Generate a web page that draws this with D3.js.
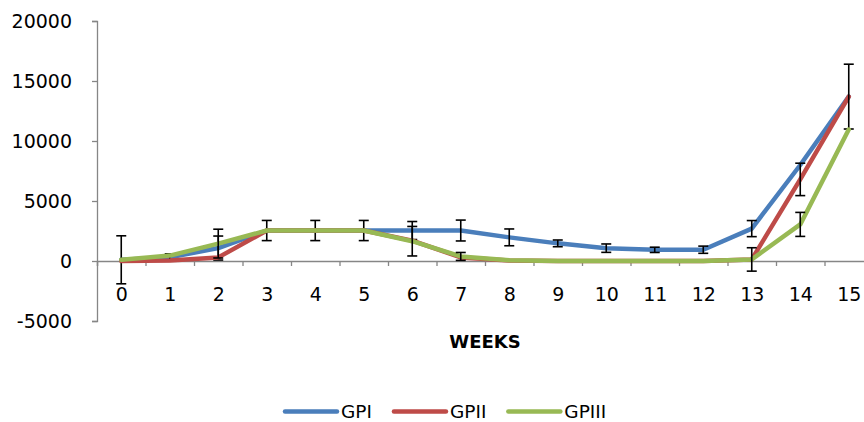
<!DOCTYPE html>
<html>
<head>
<meta charset="utf-8">
<script src="https://cdn.jsdelivr.net/npm/d3@7"></script>
<style>
  html, body { margin: 0; padding: 0; background: #fff; }
  svg { display: block; }
  text { font-family: "DejaVu Sans", "Noto Sans", sans-serif; fill: #000; }
</style>
</head>
<body>
<svg id="chart" width="864" height="422"></svg>
<script>
// ---- data ----
const weeks = [0,1,2,3,4,5,6,7,8,9,10,11,12,13,14,15];
const seriesNames = ["GPI", "GPII", "GPIII"];
const gpi   = [100, 300, 1080, 2540, 2540, 2540, 2540, 2540, 1970, 1470, 1070, 930, 940, 2700, 8000, 13700];
const gpii  = [0, 50, 300, 2540, 2540, 2540, 1700, 300, 50, 0, 0, 0, 0, 130, 6800, 13700];
const gpiii = [100, 450, 1450, 2540, 2540, 2540, 1650, 380, 60, 0, 0, 0, 0, 130, 3050, 10950];
// error bar half-lengths (0 = no bar shown)
const errGpi   = [2000, 300, 1000, 840, 840, 840, 750, 870, 700, 280, 350, 220, 300, 670, 0, 0];
const errGpii  = [0, 0, 0, 0, 0, 0, 0, 0, 0, 0, 0, 0, 0, 0, 1350, 2700];
const errGpiii = [0, 0, 1200, 0, 0, 0, 1230, 330, 0, 0, 0, 0, 0, 975, 1000, 0];
const yTicks = [-5000, 0, 5000, 10000, 15000, 20000];
const yTickLabels = ["-5000", "0", "5000", "10000", "15000", "20000"];
const xTitle = "WEEKS";
const colors = ["#4A7EBB", "#BE4B48", "#98B954"];

const seriesValues = [gpi, gpii, gpiii];
const seriesErr = [errGpi, errGpii, errGpiii];

// ---- layout ----
const svg = d3.select("#chart");
const x = d3.scaleLinear().domain([-0.5, 15.5]).range([97, 873]);
const y = d3.scaleLinear().domain([-5000, 20000]).range([321, 21]);
const axisColor = "#868686";
const fontFam = '"DejaVu Sans", "Noto Sans", sans-serif';

// Y axis
const yAxis = svg.append("g")
  .attr("transform", `translate(${x(-0.5)},0)`)
  .call(d3.axisLeft(y).tickValues(yTicks).tickSize(5).tickPadding(20)
    .tickFormat((d, i) => yTickLabels[i]));
yAxis.select(".domain").attr("stroke", axisColor).attr("stroke-width", 1.3);
yAxis.selectAll(".tick line").attr("stroke", axisColor).attr("stroke-width", 1.3);
yAxis.selectAll(".tick text").attr("font-size", 19).attr("fill", "#000")
  .style("font-family", fontFam);

// X axis (at zero) – tick marks at category boundaries
const boundaries = d3.range(-0.5, 16, 1);
const xAxis = svg.append("g")
  .attr("transform", `translate(0,${y(0)})`)
  .call(d3.axisBottom(x).tickValues(boundaries).tickSize(5).tickFormat(""));
xAxis.select(".domain").attr("stroke", axisColor).attr("stroke-width", 1.3);
xAxis.selectAll(".tick line").attr("stroke", axisColor).attr("stroke-width", 1.3);

// X labels
const xLab = svg.append("g")
  .attr("transform", `translate(0,${y(0)})`)
  .call(d3.axisBottom(x).tickValues(weeks).tickSize(0).tickPadding(27).tickFormat(d3.format("d")));
xLab.select(".domain").remove();
xLab.selectAll(".tick text").attr("font-size", 19).attr("fill", "#000")
  .style("font-family", fontFam);

// X title
svg.append("text")
  .attr("x", (x(-0.5) + x(15.5)) / 2)
  .attr("y", 348)
  .attr("text-anchor", "middle")
  .attr("font-size", 18)
  .attr("font-weight", "bold")
  .text(xTitle);

// Series lines + error bars
const line = d3.line().x((d, i) => x(weeks[i])).y(d => y(d));
const capHalf = 5;
seriesValues.forEach((vals, si) => {
  const g = svg.append("g");
  g.append("path")
    .datum(vals)
    .attr("d", line)
    .attr("fill", "none")
    .attr("stroke", colors[si])
    .attr("stroke-width", 4.5)
    .attr("stroke-linejoin", "round")
    .attr("stroke-linecap", "round");
  const errs = weeks.map((w, i) => ({w, v: vals[i], e: seriesErr[si][i]})).filter(d => d.e > 0);
  const eb = g.selectAll(".eb").data(errs).enter().append("g").attr("class", "eb")
    .attr("stroke", "#000").attr("stroke-width", 1.6);
  eb.append("line")
    .attr("x1", d => x(d.w)).attr("x2", d => x(d.w))
    .attr("y1", d => y(d.v + d.e)).attr("y2", d => y(d.v - d.e));
  eb.append("line")
    .attr("x1", d => x(d.w) - capHalf).attr("x2", d => x(d.w) + capHalf)
    .attr("y1", d => y(d.v + d.e)).attr("y2", d => y(d.v + d.e));
  eb.append("line")
    .attr("x1", d => x(d.w) - capHalf).attr("x2", d => x(d.w) + capHalf)
    .attr("y1", d => y(d.v - d.e)).attr("y2", d => y(d.v - d.e));
});

// Legend
const legY = 411.5;
let lx = 285;
seriesNames.forEach((name, si) => {
  svg.append("line")
    .attr("x1", lx).attr("x2", lx + 52)
    .attr("y1", legY).attr("y2", legY)
    .attr("stroke", colors[si]).attr("stroke-width", 4.5)
    .attr("stroke-linecap", "round");
  const t = svg.append("text")
    .attr("x", lx + 56)
    .attr("y", legY)
    .attr("dy", "0.36em")
    .attr("font-size", 18.5)
    .text(name);
  lx = lx + 56 + t.node().getComputedTextLength() + 22;
});
</script>
</body>
</html>
